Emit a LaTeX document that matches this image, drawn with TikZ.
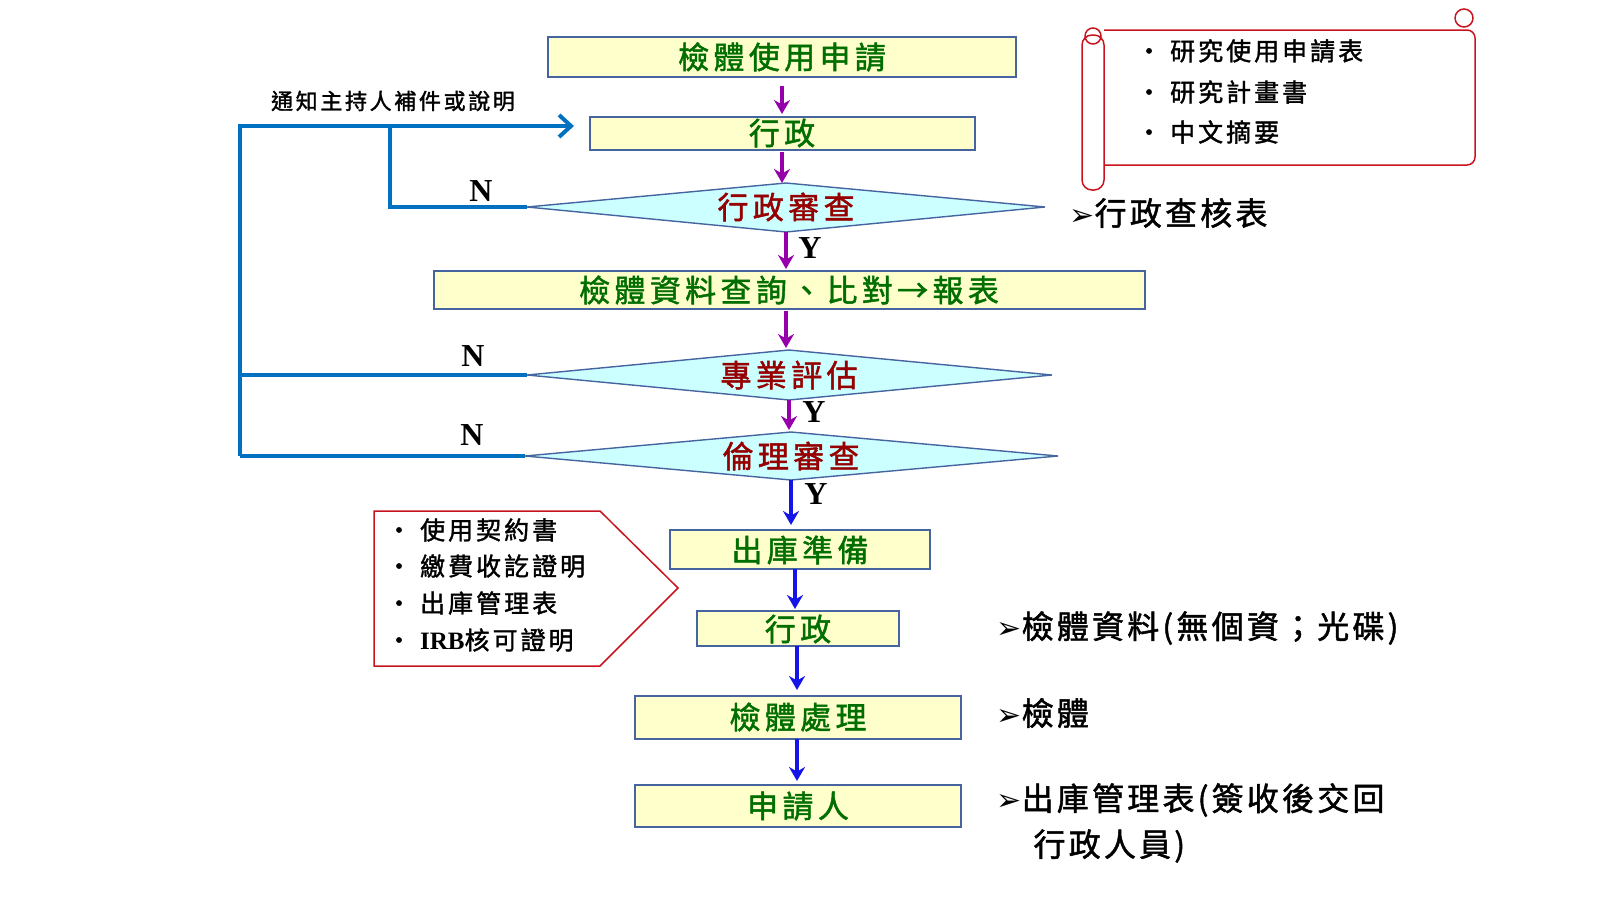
\documentclass[tikz,border=0pt]{standalone}
\usepackage{fontspec}
\setmainfont{Liberation Serif}
\newfontfamily\cjk[FakeBold=1.5]{Noto Sans CJK TC}
\newfontfamily\djvu{DejaVu Sans}
\usetikzlibrary{arrows.meta}
\definecolor{boxfill}{RGB}{255,255,204}
\definecolor{boxline}{RGB}{70,100,160}
\definecolor{dfill}{RGB}{204,255,255}
\definecolor{tgreen}{RGB}{0,110,0}
\definecolor{tred}{RGB}{150,0,0}
\definecolor{fb}{RGB}{0,112,192}
\definecolor{pur}{RGB}{150,0,170}
\definecolor{blu}{RGB}{20,20,230}
\definecolor{redl}{RGB}{200,20,30}
\begin{document}
\begin{tikzpicture}[x=1pt,y=-1pt,
 box/.style={draw=boxline,fill=boxfill,line width=1.4pt},
 dia/.style={draw=boxline,fill=dfill,line width=1.4pt},
 gt/.style={font=\cjk\fontsize{31}{32}\selectfont\addfontfeatures{LetterSpace=14},text=tgreen},
 rt/.style={font=\cjk\fontsize{31}{32}\selectfont\addfontfeatures{LetterSpace=14},text=tred},
 pa/.style={-{Stealth[length=14pt,width=16pt]},draw=pur,line width=4.5pt},
 ba/.style={-{Stealth[length=14pt,width=16pt]},draw=blu,line width=4.5pt},
 fbl/.style={draw=fb,line width=4pt},
 yn/.style={font=\bfseries\fontsize{32}{32}\selectfont},
 lt/.style={font=\cjk\fontsize{32}{34}\selectfont\addfontfeatures{LetterSpace=10},anchor=west},
 st/.style={font=\cjk\fontsize{25}{26}\selectfont\addfontfeatures{LetterSpace=12},anchor=west}]
\useasboundingbox (0,0) rectangle (1600,900);
% boxes
\draw[box] (548,37) rectangle (1016,77); \node[gt] (b1) at (782,57) {檢體使用申請};
\draw[box] (590,117) rectangle (975,150); \node[gt] (b2) at (782,133) {行政};
\draw[dia] (527,207)--(786,183)--(1045,207)--(786,232)--cycle; \node[rt] (d1) at (786,207) {行政審查};
\draw[box] (434,271) rectangle (1145,309); \node[gt] (b3) at (789,290) {檢體資料查詢、比對→報表};
\draw[dia] (527,375)--(789,350)--(1052,375)--(789,400)--cycle; \node[rt] (d2) at (789,375) {專業評估};
\draw[dia] (525,456)--(791,432)--(1058,456)--(791,480)--cycle; \node[rt] (d3) at (791,456) {倫理審查};
\draw[box] (670,530) rectangle (930,569); \node[gt] (b4) at (800,550) {出庫準備};
\draw[box] (697,611) rectangle (899,646); \node[gt] (b5) at (798,629) {行政};
\draw[box] (635,696) rectangle (961,739); \node[gt] (b6) at (798,717) {檢體處理};
\draw[box] (635,785) rectangle (961,827); \node[gt] (b7) at (798,806) {申請人};
% arrows
\coordinate (a1s) at (782,86); \coordinate (a1e) at (782,114);
\draw[pa] (a1s)--(a1e);
\coordinate (a2s) at (782,152); \coordinate (a2e) at (782,183);
\draw[pa] (a2s)--(a2e);
\coordinate (a3s) at (786,232); \coordinate (a3e) at (786,269);
\draw[pa] (a3s)--(a3e);
\coordinate (a4s) at (786,311); \coordinate (a4e) at (786,348);
\draw[pa] (a4s)--(a4e);
\coordinate (a5s) at (789,400); \coordinate (a5e) at (789,430);
\draw[pa] (a5s)--(a5e);
\coordinate (a6s) at (791,480); \coordinate (a6e) at (791,525);
\draw[ba] (a6s)--(a6e);
\coordinate (a7s) at (795,569); \coordinate (a7e) at (795,609);
\draw[ba] (a7s)--(a7e);
\coordinate (a8s) at (797,646); \coordinate (a8e) at (797,690);
\draw[ba] (a8s)--(a8e);
\coordinate (a9s) at (797,739); \coordinate (a9e) at (797,781);
\draw[ba] (a9s)--(a9e);
\node[yn] (y1) at (810,248) {Y};
\node[yn] (y2) at (814,412) {Y};
\node[yn] (y3) at (816,494) {Y};
\node[yn] (n1) at (481,191) {N};
\node[yn] (n2) at (473,356) {N};
\node[yn] (n3) at (472,435) {N};
% feedback
\coordinate (f1) at (527,207); \coordinate (f2) at (390,207); \coordinate (f3) at (390,126);
\draw[fbl] (f1)--(f2)--(f3);
\coordinate (g1) at (240,126); \coordinate (g2) at (240,456); \coordinate (g3) at (574,126);
\draw[fbl,-{Straight Barb[length=12pt,width=22pt]}] (g2)--(g1)--(g3);
\coordinate (h1) at (527,375); \coordinate (h2) at (240,375);
\draw[fbl] (h1)--(h2);
\coordinate (k1) at (525,456);
\draw[fbl] (k1)--(g2);
\node[font=\cjk\fontsize{22}{22}\selectfont\addfontfeatures{LetterSpace=12}] (nt) at (393,101) {通知主持人補件或說明};
% scroll
\draw[redl,line width=1.5pt,rounded corners=8pt] (1104,30)--(1475,30)--(1475,165)--(1104,165);
\draw[redl,line width=1.5pt,rounded corners=10pt] (1082,35) rectangle (1104,190);
\draw[redl,line width=1.5pt] (1093,36) circle (8);
\draw[redl,line width=1.5pt] (1464,18) circle (9);
\node[st] (s1) at (1133,51) {•\ 研究使用申請表};
\node[st] (s2) at (1133,92) {•\ 研究計畫書};
\node[st] (s3) at (1133,132) {•\ 中文摘要};
% pentagon
\draw[redl,line width=1.5pt] (374,511)--(600,511)--(678,588)--(600,666)--(374,666)--cycle;
\node[st] (p1) at (383,530) {•\ 使用契約書};
\node[st] (p2) at (383,566) {•\ 繳費收訖證明};
\node[st] (p3) at (383,603) {•\ 出庫管理表};
\node[st] (p4) at (383,640) {•\ {\rmfamily\bfseries IRB}核可證明};
% right labels
\node[lt] (r1) at (1066,213) {{\djvu\fontsize{30}{30}\selectfont ➢}行政查核表};
\node[lt] (r2) at (993,628) {{\djvu\fontsize{30}{30}\selectfont ➢}檢體資料(無個資；光碟)};
\node[lt] (r3) at (993,713) {{\djvu\fontsize{30}{30}\selectfont ➢}檢體};
\node[lt] (r4) at (993,800) {{\djvu\fontsize{30}{30}\selectfont ➢}出庫管理表(簽收後交回};
\node[lt] (r5) at (1030,846) {行政人員)};
\end{tikzpicture}
\end{document}
